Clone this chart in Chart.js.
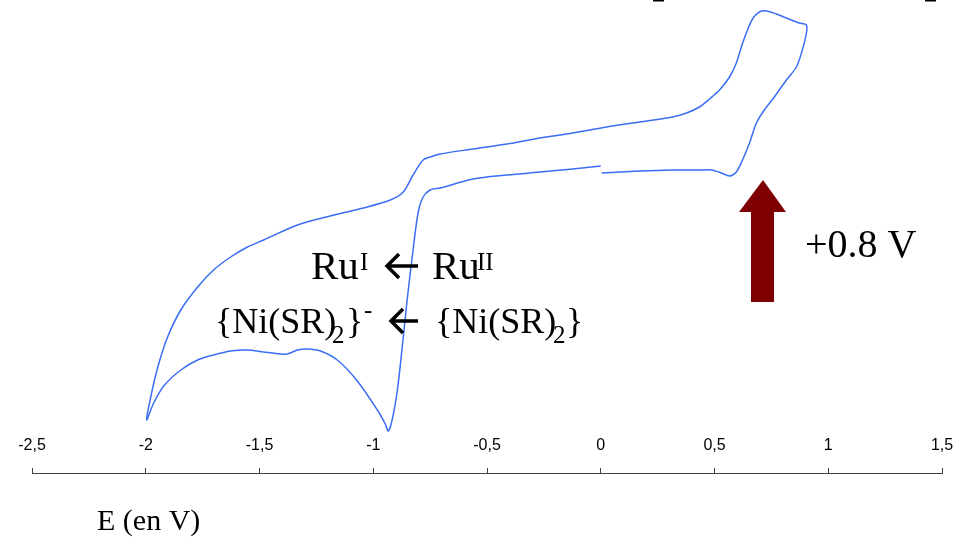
<!DOCTYPE html>
<html lang="fr">
<head>
    <meta charset="UTF-8">
    <title>Voltampérogramme cyclique</title>
    <style>
        body, html {
            margin: 0;
            padding: 0;
            background: #fff;
        }
        #chart {
            width: 963px;
            height: 537px;
            position: relative;
        }
    </style>
</head>
<body>

<div id="chart">
    <canvas id="myChart"></canvas>
</div>

<script src="https://cdn.jsdelivr.net/npm/chart.js"></script>
<script type="text/javascript">
    // potentiel (V) et courant (u.a.), dans l'ordre du balayage : 0 -> +0.9 -> -2 -> 0
    var potential = [
        0.004, 0.171, 0.316, 0.434, 0.487, 0.531, 0.566, 0.596, 0.623, 0.654, 0.684, 0.719, 0.763, 0.816, 0.860, 0.886, 0.904, 0.904,
        0.873, 0.816, 0.772, 0.728, 0.697, 0.667, 0.640, 0.618, 0.596, 0.566, 0.522, 0.478, 0.434, 0.377, 0.316, 0.171, 0.026,
        -0.123, -0.268, -0.412, -0.561, -0.706, -0.750, -0.781, -0.825, -0.868, -0.925, -1.044, -1.189, -1.333, -1.482, -1.553,
        -1.627, -1.702, -1.772, -1.846, -1.904, -1.947, -1.978, -1.996,
        -1.965, -1.921, -1.846, -1.772, -1.702, -1.627, -1.553, -1.482, -1.408, -1.377, -1.333, -1.289, -1.232, -1.158, -1.070,
        -0.982, -0.947, -0.934, -0.917, -0.895, -0.873, -0.851, -0.825, -0.803, -0.781, -0.750, -0.706, -0.561, -0.412, -0.268,
        -0.123, 0.000
    ];
    var current = [
        30.0, 30.2, 30.3, 30.3, 30.3, 30.0, 29.7, 30.1, 31.3, 33.0, 35.0, 36.3, 37.6, 39.3, 40.6, 42.3, 44.0, 44.8,
        45.0, 45.5, 45.9, 46.2, 46.1, 45.4, 44.0, 42.6, 41.0, 39.6, 38.3, 37.4, 36.6, 36.0, 35.6, 35.1, 34.6,
        34.0, 33.5, 32.9, 32.4, 31.9, 31.6, 31.3, 29.8, 28.1, 27.3, 26.5, 25.7, 24.8, 23.3, 22.6,
        21.6, 20.3, 18.6, 16.3, 13.6, 10.6, 7.6, 5.3,
        7.0, 8.7, 10.3, 11.3, 11.8, 12.2, 12.3, 12.1, 11.9, 11.9, 12.3, 12.4, 12.2, 11.3, 9.2,
        6.3, 4.9, 4.2, 5.3, 8.1, 12.5, 17.3, 22.3, 26.0, 27.6, 28.3, 28.5, 29.4, 29.8, 30.1,
        30.4, 30.7
    ];
    var xTicks = [-2.5, -2, -1.5, -1, -0.5, 0, 0.5, 1, 1.5];
    var axisTitle = 'E (en V)';
    var stepLabel = '+0.8 V';

    var serif = "'Liberation Serif', 'Times New Roman', serif";

    // flèche "←" dessinée au trait
    function leftArrow(ctx, x1, x2, y) {
        ctx.save();
        ctx.strokeStyle = '#000';
        ctx.lineWidth = 3.5;
        ctx.lineCap = 'butt';
        ctx.beginPath();
        ctx.moveTo(x2, y);
        ctx.lineTo(x1 + 2, y);
        ctx.moveTo(x1 + 13, y - 12);
        ctx.lineTo(x1 + 1, y);
        ctx.lineTo(x1 + 13, y + 12);
        ctx.stroke();
        ctx.restore();
    }

    function txt(ctx, s, x, y, size) {
        ctx.font = size + 'px ' + serif;
        ctx.fillText(s, x, y);
    }

    var annotations = {
        id: 'annotations',
        afterDraw: function(chart) {
            var ctx = chart.ctx;
            ctx.save();
            ctx.fillStyle = '#000';
            ctx.textAlign = 'left';
            ctx.textBaseline = 'alphabetic';

            // bouts de texte coupés en haut
            ctx.fillRect(653, 0, 11, 1.5);
            ctx.fillRect(925, 0, 11, 1.5);

            // Ru(I) <- Ru(II)
            txt(ctx, 'Ru', 311, 279, 41);
            txt(ctx, 'I', 360, 270, 25);
            leftArrow(ctx, 386, 418, 266);
            txt(ctx, 'Ru', 432, 279, 41);
            txt(ctx, 'II', 477, 270, 25);

            // {Ni(SR)2}- <- {Ni(SR)2}
            txt(ctx, '{Ni(SR)', 215, 333, 36);
            txt(ctx, '2', 332, 343, 25);
            txt(ctx, '}', 346, 333, 36);
            txt(ctx, '-', 364, 318, 25);
            leftArrow(ctx, 390, 418, 321);
            txt(ctx, '{Ni(SR)', 435, 333, 36);
            txt(ctx, '2', 553, 343, 25);
            txt(ctx, '}', 566, 333, 36);

            // saut de potentiel
            ctx.fillStyle = '#7f0000';
            ctx.beginPath();
            ctx.moveTo(763, 180);
            ctx.lineTo(786, 212);
            ctx.lineTo(774, 212);
            ctx.lineTo(774, 302);
            ctx.lineTo(751, 302);
            ctx.lineTo(751, 212);
            ctx.lineTo(739, 212);
            ctx.closePath();
            ctx.fill();
            ctx.fillStyle = '#000';
            txt(ctx, stepLabel, 805, 257, 40);

            // titre de l'axe
            txt(ctx, axisTitle, 97, 530, 30);
            ctx.restore();
        }
    };

    var points = potential.map(function(e, i) {
        return {x: e, y: current[i]};
    });

    var ctx = document.getElementById('myChart').getContext('2d');
    window.myChart = new Chart(ctx, {
        type: 'scatter',
        data: {
            datasets: [{
                data: points,
                showLine: true,
                borderColor: '#3b6ef5',
                borderWidth: 1.5,
                pointRadius: 0,
                tension: 0.3,
                clip: false
            }]
        },
        options: {
            responsive: true,
            maintainAspectRatio: false,
            animation: false,
            layout: {
                padding: {left: 32, right: 21, top: 0, bottom: 64}
            },
            plugins: {
                legend: {display: false},
                tooltip: {enabled: false}
            },
            scales: {
                x: {
                    type: 'linear',
                    min: -2.5,
                    max: 1.5,
                    afterBuildTicks: function(scale) {
                        scale.ticks = xTicks.map(function(v) { return {value: v}; });
                    },
                    ticks: {
                        padding: -32,
                        color: '#000',
                        autoSkip: false,
                        maxRotation: 0,
                        font: {family: "'Liberation Sans', Arial, sans-serif", size: 16},
                        callback: function(v) { return String(v).replace('.', ','); }
                    },
                    grid: {
                        drawOnChartArea: false,
                        drawTicks: true,
                        tickLength: -5,
                        color: '#404040'
                    },
                    border: {display: true, color: '#404040', width: 1}
                },
                y: {
                    display: false,
                    min: 0,
                    max: 47.3
                }
            }
        },
        plugins: [annotations]
    });
</script>
</body>
</html>
